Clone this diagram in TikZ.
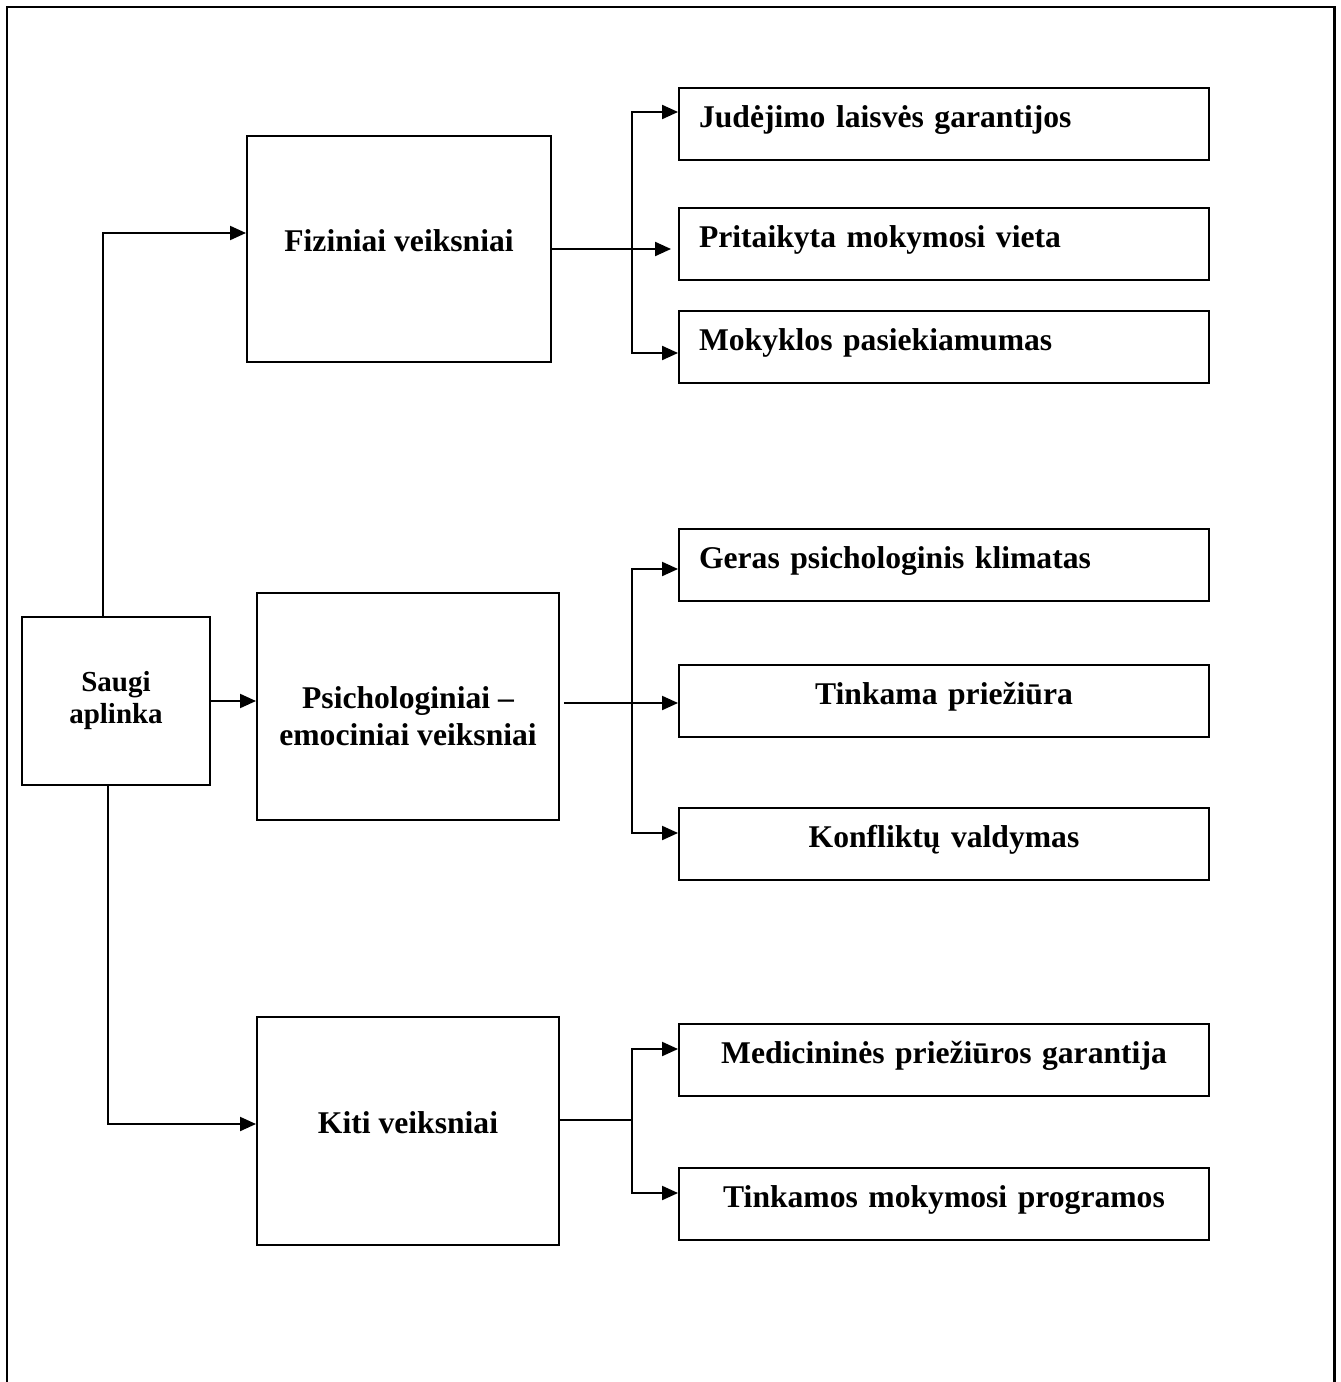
\documentclass[tikz,border=0pt]{standalone}
\usepackage{fontspec}
\setmainfont{Liberation Serif}
\usetikzlibrary{arrows.meta}

\begin{document}
\begin{tikzpicture}[x=0.02cm, y=-0.02cm,
  box/.style={draw=black, line width=1.15pt, inner sep=0pt, font=\bfseries\fontsize{18}{21}\selectfont},
  bigbox/.style={box, minimum width=6.04cm, minimum height=4.54cm, align=center},
  item/.style={box, minimum width=10.6cm, minimum height=1.44cm, text width=9.8cm, text height=0.7em, text depth=0.25em},
  conn/.style={line width=1.15pt, -{Triangle[length=0.32cm, width=0.28cm]}},
  frame/.style={line width=1.7pt}]
\useasboundingbox (0,0) rectangle (1341,1382);
\draw[frame] (7,1382) -- (7,7) -- (1334,7) -- (1334,1382);

% root
\node[box, minimum width=3.76cm, minimum height=3.36cm, align=center, font=\bfseries\fontsize{16.5}{18.2}\selectfont] (saugi) at (116,701) {Saugi\\aplinka};

% factor groups
\node[bigbox, minimum width=6.08cm, text height=0.7em, text depth=0.45em] (fiz) at (399,249) {Fiziniai veiksniai};
\node[bigbox, text height=1.57cm, text depth=0pt] (psy) at (408,706.5) {Psichologiniai --\\emociniai veiksniai};
\node[bigbox, minimum height=4.56cm, text height=0.7em, text depth=0.45em] (kiti) at (408,1131) {Kiti veiksniai};

% items
\node[item, align=left] (j1) at (944,124) {Judėjimo laisvės garantijos};
\node[item, align=left] (j2) at (944,244) {Pritaikyta mokymosi vieta};
\node[item, align=left] (j3) at (944,347) {Mokyklos pasiekiamumas};
\node[item, align=left] (p1) at (944,565) {Geras psichologinis klimatas};
\node[item, align=center] (p2) at (944,701) {Tinkama priežiūra};
\node[item, align=center] (p3) at (944,844) {Konfliktų valdymas};
\node[item, align=center] (k1) at (944,1060) {Medicininės priežiūros garantija};
\node[item, align=center] (k2) at (944,1204) {Tinkamos mokymosi programos};

\coordinate (fb) at (632,249);
\coordinate (pb) at (632,703);
\coordinate (kb) at (632,1120);

\draw[conn] ([shift={(-13,0)}]saugi.north) |- ([shift={(0,-16)}]fiz.west);
\draw[conn] (saugi.east) -- (saugi.east -| psy.west);
\draw[conn] ([shift={(-8,0)}]saugi.south) |- ([shift={(0,-7)}]kiti.west);

\draw[conn] (fiz.east) -- ([shift={(-7,0)}]fiz.east -| j2.west);
\draw[conn] (fb) |- ([shift={(0,-12)}]j1.west);
\draw[conn] (fb) |- ([shift={(0,6)}]j3.west);

\draw[conn] ([shift={(4,-3.5)}]psy.east) -- (pb -| p2.west);
\draw[conn] (pb) |- ([shift={(0,4)}]p1.west);
\draw[conn] (pb) |- ([shift={(0,-11)}]p3.west);

\draw[line width=1.15pt] ([shift={(0,-11)}]kiti.east) -- (kb);
\draw[conn] (kb) |- ([shift={(0,-11)}]k1.west);
\draw[conn] (kb) |- ([shift={(0,-11)}]k2.west);
\end{tikzpicture}
\end{document}
